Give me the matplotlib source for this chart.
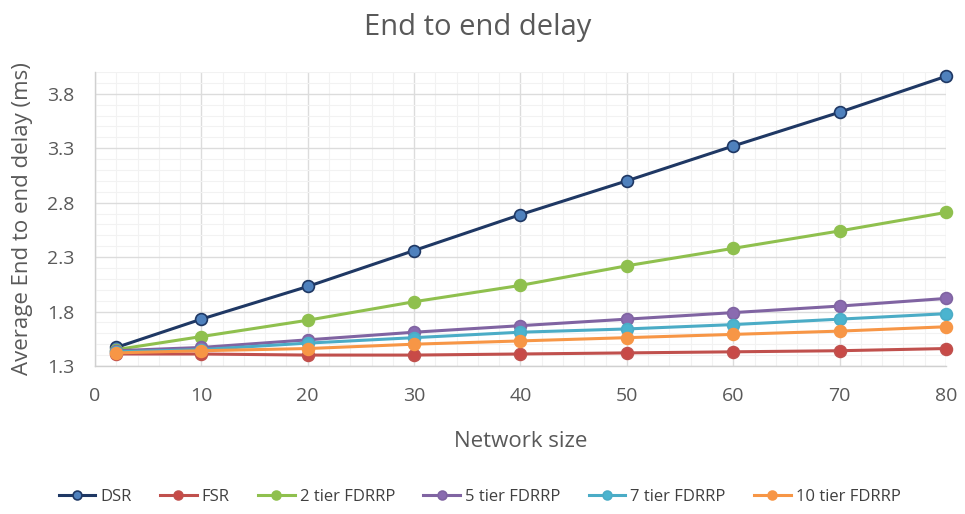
import matplotlib
matplotlib.use("Agg")
import matplotlib.pyplot as plt
from matplotlib.ticker import MultipleLocator

plt.rcParams['font.family'] = ['Open Sans', 'DejaVu Sans']

# Network sizes
network_size = [2, 10, 20, 30, 40, 50, 60, 70, 80]

# Average end-to-end delay (ms) per protocol
dsr = [1.47, 1.73, 2.03, 2.36, 2.69, 3.00, 3.32, 3.63, 3.96]
fsr = [1.41, 1.41, 1.40, 1.40, 1.41, 1.42, 1.43, 1.44, 1.46]
tier2 = [1.45, 1.57, 1.72, 1.89, 2.04, 2.22, 2.38, 2.54, 2.71]
tier5 = [1.44, 1.47, 1.54, 1.61, 1.67, 1.73, 1.79, 1.85, 1.92]
tier7 = [1.43, 1.45, 1.51, 1.56, 1.61, 1.64, 1.68, 1.73, 1.78]
tier10 = [1.42, 1.44, 1.46, 1.50, 1.53, 1.56, 1.59, 1.62, 1.66]

series_names = ['DSR', 'FSR', '2 tier FDRRP', '5 tier FDRRP', '7 tier FDRRP', '10 tier FDRRP']
series_values = [dsr, fsr, tier2, tier5, tier7, tier10]
line_colors = ['#1f3864', '#c0504d', '#8fc04e', '#8064a2', '#4bacc6', '#f79646']
face_colors = ['#4f81bd', '#c84a47', '#8fc04e', '#8a6bb0', '#4bb4cf', '#f79646']

x_ticks = [0, 10, 20, 30, 40, 50, 60, 70, 80]
y_ticks = [1.3, 1.8, 2.3, 2.8, 3.3, 3.8]

fig = plt.figure(figsize=(9.65, 5.14), dpi=100)
ax = fig.add_axes([0.0984, 0.288, 0.8819, 0.572])

ax.set_xlim(0, 80)
ax.set_ylim(1.3, 4.0)
ax.set_xticks(x_ticks)
ax.set_yticks(y_ticks)
ax.set_yticklabels([f"{v:.1f}" for v in y_ticks])
ax.xaxis.set_minor_locator(MultipleLocator(2))
ax.yaxis.set_minor_locator(MultipleLocator(0.1))

ax.grid(which='major', color='#dcdcdc', linewidth=1.0)
ax.grid(which='minor', color='#f2f2f2', linewidth=0.8)
ax.set_axisbelow(True)

for side in ['top', 'right']:
    ax.spines[side].set_visible(False)
for side in ['left', 'bottom']:
    ax.spines[side].set_color('#d0d0d0')
    ax.spines[side].set_linewidth(1.0)

ax.tick_params(which='both', length=0, labelsize=14, colors='#595959')
ax.tick_params(axis='x', pad=15)
ax.tick_params(axis='y', pad=15)

for name, vals, lc, fc in zip(series_names, series_values, line_colors, face_colors):
    ax.plot(network_size, vals, color=lc, linewidth=2.2, marker='o',
            markersize=8.5, markerfacecolor=fc, markeredgecolor=lc,
            markeredgewidth=1.2, label=name, clip_on=False, zorder=3)

fig.text(0.495, 0.947, 'End to end delay', ha='center', va='center',
         fontsize=21, color='#595959')
ax.set_xlabel('Network size', fontsize=16, color='#595959', labelpad=19)
ax.set_ylabel('Average End to end delay (ms)', fontsize=16, color='#595959', labelpad=10)

leg = fig.legend(loc='center', bbox_to_anchor=(0.497, 0.033), ncol=6, frameon=False,
                 fontsize=12, handlelength=2.2, columnspacing=1.7, handletextpad=0.3,
                 markerscale=0.75)
for t in leg.get_texts():
    t.set_color('#404040')

fig.savefig('out.png', dpi=100)
